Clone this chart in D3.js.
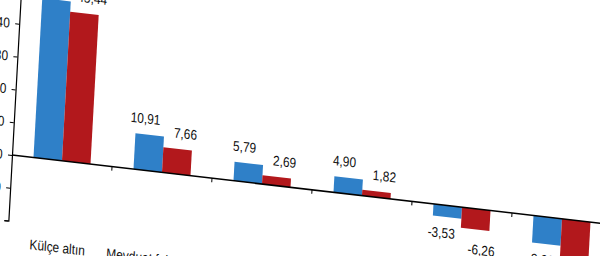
<!DOCTYPE html>
<html>
<head>
<meta charset="utf-8">
<script src="https://cdn.jsdelivr.net/npm/d3@7"></script>
<style>
  html, body { margin: 0; padding: 0; background: #fff; }
  svg { display: block; }
  text { font-family: "Liberation Sans", Arial, sans-serif; fill: #111; }
</style>
</head>
<body>
<svg id="chart" width="600" height="256"></svg>
<script>
// ---- data ----
const categories = ["Külçe altın", "Mevduat faizi (brüt)", "Devlet iç borçlanma senetleri", "ABD doları", "Euro", "BIST 100"];
const seriesNames = ["TÜFE ile indirgenmiş", "Yİ-ÜFE ile indirgenmiş"];
const blueValues = [48.6, 10.91, 5.79, 4.90, -3.53, -8.2];
const redValues  = [45.44, 7.66, 2.69, 1.82, -6.26, -12.5];
const yTickValues = [-20, -10, 0, 10, 20, 30, 40, 50];
const colors = ["#2f80c8", "#b2181c"];

const locale = d3.formatLocale({decimal: ",", thousands: ".", grouping: [3], currency: ["", " TL"], minus: "-"});
const fmt = locale.format(".2f");
const fmtTick = locale.format("d");

const svg = d3.select("#chart");
svg.append("rect").attr("width", 600).attr("height", 256).attr("fill", "#fff");

// skewed plotting frame (the picture is sheared)
const g = svg.append("g").attr("transform", "matrix(1 0.116 -0.055 1 12 155)");

const x0 = d3.scaleBand().domain(categories).range([0, 600]).paddingInner(0.43).paddingOuter(0.215);
const x1 = d3.scaleBand().domain([0, 1]).range([0, x0.bandwidth()]);
const y = d3.scaleLinear().domain([-20, 60]).range([65.6, -196.8]);

const series = [blueValues, redValues];
const TXT = 0.85;

// bars
series.forEach((vals, si) => {
  g.append("g").selectAll("rect").data(vals).join("rect")
    .attr("x", (d, i) => x0(categories[i]) + x1(si))
    .attr("width", x1.bandwidth())
    .attr("y", d => Math.min(y(d), y(0)))
    .attr("height", d => Math.abs(y(d) - y(0)))
    .attr("fill", colors[si]);
});

// value labels
series.forEach((vals, si) => {
  const off = si === 0 ? -5 : 7;
  const negOff = si === 0 ? 21 : 25;
  g.append("g").selectAll("text").data(vals).join("text")
    .attr("transform", (d, i) => {
      const cx = x0(categories[i]) + x1(si) + x1.bandwidth() / 2 + off;
      const cy = d >= 0 ? y(d) - 11 : y(d) + negOff;
      return `translate(${cx},${cy}) scale(${TXT},1)`;
    })
    .attr("text-anchor", "middle")
    .attr("font-size", 14)
    .text(d => fmt(d));
});

// y axis
const yAxis = g.append("g")
  .call(d3.axisLeft(y).tickValues(yTickValues).tickSize(4).tickPadding(7).tickFormat(fmtTick));
yAxis.select(".domain").attr("stroke", "#000").attr("stroke-width", 1.2);
yAxis.selectAll(".tick line").attr("stroke", "#000");
yAxis.selectAll(".tick text")
  .attr("font-size", 14)
  .attr("fill", "#111")
  .attr("transform", `scale(${TXT},1)`);

// x axis baseline and ticks between groups
g.append("line")
  .attr("x1", 0).attr("x2", 600)
  .attr("y1", y(0)).attr("y2", y(0))
  .attr("stroke", "#000").attr("stroke-width", 1.6);
const gap = x0.step() - x0.bandwidth();
g.append("g").selectAll("line").data(categories.slice(1)).join("line")
  .attr("x1", d => x0(d) - gap / 2).attr("x2", d => x0(d) - gap / 2)
  .attr("y1", y(0)).attr("y2", y(0) + 4)
  .attr("stroke", "#000").attr("stroke-width", 1);

// category labels
g.append("g").selectAll("text").data(categories).join("text")
  .attr("transform", d => `translate(${x0(d) + x0.bandwidth() / 2},${y(-20) + 26}) scale(${TXT},1)`)
  .attr("text-anchor", "middle")
  .attr("font-size", 14)
  .text(d => d);
</script>
</body>
</html>
